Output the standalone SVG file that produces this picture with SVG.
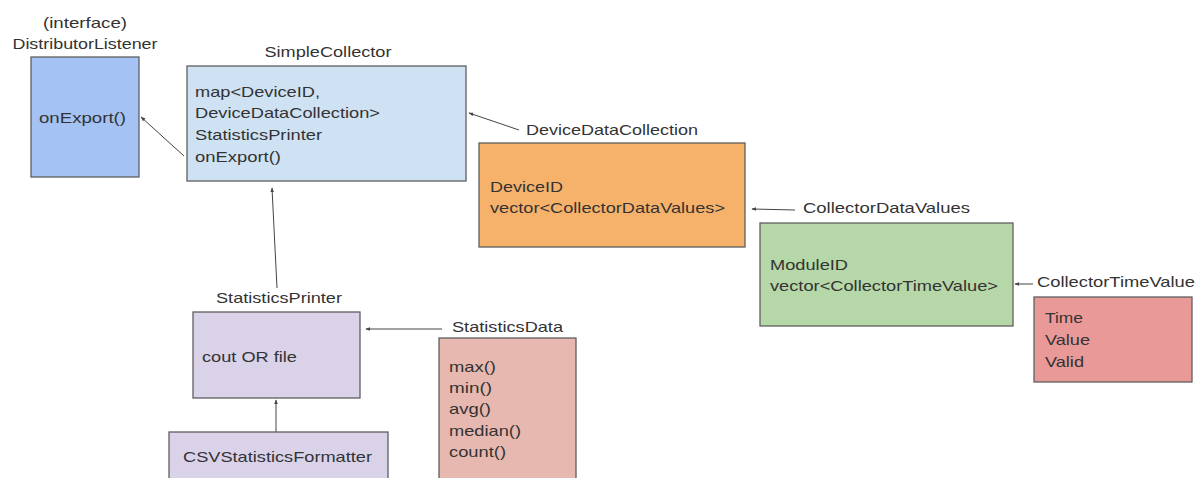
<svg xmlns="http://www.w3.org/2000/svg" width="1201" height="478" viewBox="0 0 1201 478">
<defs>
<style>
text{font-family:"Liberation Sans",Arial,sans-serif;font-size:15px;fill:#333}
.box{stroke:#5f5f5f;stroke-width:1.3}
.c{stroke:#444;stroke-width:1;fill:none;marker-end:url(#ah)}
</style>
<marker id="ah" viewBox="0 0 8 8" refX="7" refY="4" markerWidth="5" markerHeight="5" markerUnits="userSpaceOnUse" orient="auto">
<path d="M0,1 L8,4 L0,7 Z" fill="#444"/>
</marker>
</defs>
<rect width="1201" height="478" fill="#fff"/>
<g id="connectors">
<line class="c" x1="184" y1="156" x2="141" y2="117"/>
<line class="c" x1="519" y1="130" x2="469" y2="113"/>
<line class="c" x1="795" y1="210" x2="752" y2="209"/>
<line class="c" x1="1033" y1="284" x2="1015" y2="284"/>
<line class="c" x1="442" y1="329" x2="366" y2="329"/>
<line class="c" x1="277" y1="288" x2="272" y2="188"/>
<line class="c" x1="276" y1="432" x2="276" y2="400"/>
</g>
<g id="DistributorListener">
<text x="85" y="28" text-anchor="middle" textLength="84" lengthAdjust="spacingAndGlyphs">(interface)</text>
<text x="85" y="49" text-anchor="middle" textLength="145" lengthAdjust="spacingAndGlyphs">DistributorListener</text>
<rect class="box" x="31" y="57" width="108" height="120" fill="#a4c2f4"/>
<text x="39" y="123" textLength="87" lengthAdjust="spacingAndGlyphs">onExport()</text>
</g>
<g id="SimpleCollector">
<text x="328" y="57" text-anchor="middle" textLength="127" lengthAdjust="spacingAndGlyphs">SimpleCollector</text>
<rect class="box" x="187" y="66" width="279" height="115" fill="#cfe2f3"/>
<text x="195" y="97" textLength="125" lengthAdjust="spacingAndGlyphs">map&lt;DeviceID,</text>
<text x="195" y="118" textLength="185" lengthAdjust="spacingAndGlyphs">DeviceDataCollection&gt;</text>
<text x="195" y="140" textLength="127" lengthAdjust="spacingAndGlyphs">StatisticsPrinter</text>
<text x="195" y="162" textLength="86" lengthAdjust="spacingAndGlyphs">onExport()</text>
</g>
<g id="DeviceDataCollection">
<text x="526" y="135" textLength="172" lengthAdjust="spacingAndGlyphs">DeviceDataCollection</text>
<rect class="box" x="479" y="143" width="266" height="104" fill="#f6b26b"/>
<text x="490" y="192" textLength="73" lengthAdjust="spacingAndGlyphs">DeviceID</text>
<text x="490" y="213" textLength="235" lengthAdjust="spacingAndGlyphs">vector&lt;CollectorDataValues&gt;</text>
</g>
<g id="CollectorDataValues">
<text x="803" y="213" textLength="167" lengthAdjust="spacingAndGlyphs">CollectorDataValues</text>
<rect class="box" x="760" y="223" width="253" height="103" fill="#b6d7a8"/>
<text x="770" y="270" textLength="78" lengthAdjust="spacingAndGlyphs">ModuleID</text>
<text x="770" y="291" textLength="228" lengthAdjust="spacingAndGlyphs">vector&lt;CollectorTimeValue&gt;</text>
</g>
<g id="CollectorTimeValue">
<text x="1037" y="287" textLength="158" lengthAdjust="spacingAndGlyphs">CollectorTimeValue</text>
<rect class="box" x="1034" y="297" width="158" height="85" fill="#ea9999"/>
<text x="1045" y="323" textLength="38" lengthAdjust="spacingAndGlyphs">Time</text>
<text x="1045" y="345" textLength="45" lengthAdjust="spacingAndGlyphs">Value</text>
<text x="1045" y="367" textLength="39" lengthAdjust="spacingAndGlyphs">Valid</text>
</g>
<g id="StatisticsPrinter">
<text x="216" y="303" textLength="126" lengthAdjust="spacingAndGlyphs">StatisticsPrinter</text>
<rect class="box" x="193" y="312" width="167" height="86" fill="#d9d2e9"/>
<text x="202" y="362" textLength="95" lengthAdjust="spacingAndGlyphs">cout OR file</text>
</g>
<g id="StatisticsData">
<text x="452" y="332" textLength="111" lengthAdjust="spacingAndGlyphs">StatisticsData</text>
<rect class="box" x="439" y="338" width="137" height="150" fill="#e6b8af"/>
<text x="449" y="372" textLength="47" lengthAdjust="spacingAndGlyphs">max()</text>
<text x="449" y="393" textLength="43" lengthAdjust="spacingAndGlyphs">min()</text>
<text x="449" y="414" textLength="42" lengthAdjust="spacingAndGlyphs">avg()</text>
<text x="449" y="436" textLength="72" lengthAdjust="spacingAndGlyphs">median()</text>
<text x="449" y="457" textLength="57" lengthAdjust="spacingAndGlyphs">count()</text>
</g>
<g id="CSVStatisticsFormatter">
<rect class="box" x="169" y="432" width="219" height="60" fill="#d9d2e9"/>
<text x="183" y="462" textLength="189" lengthAdjust="spacingAndGlyphs">CSVStatisticsFormatter</text>
</g>
</svg>
